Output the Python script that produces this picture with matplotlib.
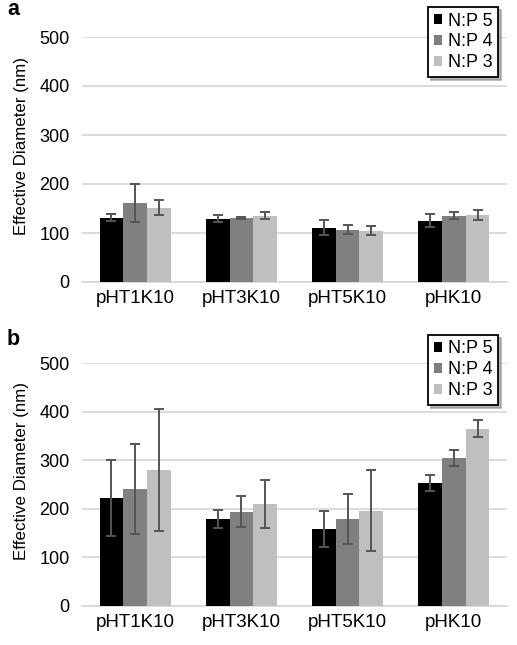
import matplotlib
matplotlib.use("Agg")
import matplotlib.pyplot as plt
import numpy as np

plt.rcParams['font.family'] = ['Liberation Sans', 'DejaVu Sans']

categories = ["pHT1K10", "pHT3K10", "pHT5K10", "pHK10"]
series = ["N:P 5", "N:P 4", "N:P 3"]
colors = ["#000000", "#808080", "#bfbfbf"]

a_vals = [[131, 129, 111, 125],
          [162, 131, 107, 135],
          [152, 135, 105, 137]]
a_errs = [[7, 7, 16, 13],
          [39, 2, 9, 7],
          [16, 7, 10, 10]]

b_vals = [[223, 179, 159, 253],
          [241, 194, 179, 304],
          [280, 210, 196, 365]]
b_errs = [[78, 19, 37, 16],
          [92, 32, 51, 16],
          [126, 50, 83, 18]]

yticks = [0, 100, 200, 300, 400, 500]

W, H = 517, 645
fig = plt.figure(figsize=(W / 100, H / 100), dpi=100)
ax_a = fig.add_axes([82 / W, 1 - 282 / H, 425 / W, 245 / H])
ax_b = fig.add_axes([82 / W, 1 - 606 / H, 425 / W, 243 / H])

def draw(ax, vals, errs, label, leg_top, label_y):
    x = np.arange(len(categories))
    w = 0.223
    for i, (s, c) in enumerate(zip(series, colors)):
        ax.bar(x + (i - 1) * w, vals[i], w, color=c, label=s, zorder=3,
               yerr=errs[i], error_kw=dict(ecolor="#555555", elinewidth=1.4,
                                           capsize=3.5, capthick=1.4, zorder=4))
    ax.set_xlim(-0.5, len(categories) - 0.5)
    ax.set_ylim(0, 500)
    ax.set_yticks(yticks)
    ax.set_xticks(x)
    ax.set_xticklabels(categories)
    ax.tick_params(axis='y', length=0, labelsize=13, pad=9)
    ax.tick_params(axis='x', length=0, labelsize=13.5, pad=6)
    ax.grid(axis='y', color="#d9d9d9", linewidth=1.3, zorder=0)
    for sp in ["top", "right", "left"]:
        ax.spines[sp].set_visible(False)
    ax.spines["bottom"].set_color("#d9d9d9")
    ax.spines["bottom"].set_linewidth(1.3)
    ax.set_ylabel("Effective Diameter (nm)", fontsize=12.2)
    ax.yaxis.set_label_coords(-0.125, 0.556)
    leg = ax.legend(loc="upper right", bbox_to_anchor=(0.979, leg_top), fontsize=13,
                    frameon=True, fancybox=False, shadow={'color': '#888888', 'alpha': 0.6},
                    handlelength=0.45, handleheight=0.45, handletextpad=0.35,
                    borderpad=0.3, labelspacing=0.22, borderaxespad=0.0)
    leg.get_frame().set_edgecolor("black")
    leg.get_frame().set_linewidth(1.3)
    fig.text(7 / W, 1 - label_y / H, label, fontsize=15.5,
             fontweight="bold", va="bottom", ha="left")

draw(ax_a, a_vals, a_errs, "a", 1.122, 20)
draw(ax_b, b_vals, b_errs, "b", 1.115, 350)

fig.savefig("out.png", dpi=100)
